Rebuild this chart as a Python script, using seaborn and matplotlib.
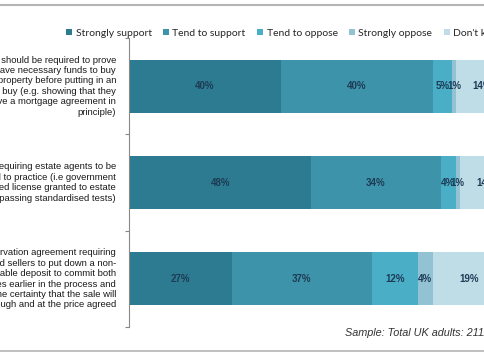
import numpy as np
import pandas as pd
import matplotlib
matplotlib.use("Agg")
import matplotlib.pyplot as plt
import seaborn as sns
from matplotlib.lines import Line2D
from matplotlib.patches import Patch

sns.set_theme(style="white")
plt.rcParams['font.family'] = ['Liberation Sans', 'DejaVu Sans']

# data
statements = [
    "Buyers should be required to prove\nthey have necessary funds to buy\na property before putting in an\noffer to buy (e.g. showing that they\nhave a mortgage agreement in\nprinciple)",
    "Requiring estate agents to be\nlicensed to practice (i.e government\napproved license granted to estate\nagents passing standardised tests)",
    "A reservation agreement requiring\nbuyers and sellers to put down a non-\nrefundable deposit to commit both\nparties earlier in the process and\ngive the certainty that the sale will\ngo through and at the price agreed",
]
responses = ["Strongly support", "Tend to support", "Tend to oppose", "Strongly oppose", "Don't know"]
strongly_support = [40, 48, 27]
tend_support = [40, 34, 37]
tend_oppose = [5, 4, 12]
strongly_oppose = [1, 1, 4]
dont_know = [14, 14, 19]
colors = ["#2d7b90", "#3d93a9", "#4aaec6", "#93c2d3", "#bfdde6"]

df = pd.DataFrame({
    "statement": statements,
    responses[0]: strongly_support,
    responses[1]: tend_support,
    responses[2]: tend_oppose,
    responses[3]: strongly_oppose,
    responses[4]: dont_know,
})

fig = plt.figure(figsize=(4.85, 3.6), dpi=100)
ax = fig.add_axes([129 / 485, 1 - 327 / 360, 380 / 485, 289 / 360])

left = np.zeros(len(df))
for resp, col in zip(responses, colors):
    sns.barplot(x=df[resp], y=np.arange(len(df)), left=left, orient="h",
                color=col, width=0.55, ax=ax, saturation=1, linewidth=0)
    for i, (v, l) in enumerate(zip(df[resp], left)):
        ax.text(l + v / 2, i, f"{v}%", ha="center", va="center",
                fontsize=7, color="#1d3b55", fontweight="bold")
    left = left + df[resp].values

ax.set_xlim(0, 100)
ax.set_ylim(2.5, -0.5)
ax.set_xticks([])
ax.set_yticks([-0.5, 0.5, 1.5, 2.5])
ax.set_yticklabels([])
ax.tick_params(axis="y", length=3, width=0.8, color="#888888", left=True)
ax.set_xlabel("")
ax.set_ylabel("")
for s in ["top", "right", "bottom"]:
    ax.spines[s].set_visible(False)
ax.spines["left"].set_color("#888888")
ax.spines["left"].set_linewidth(0.8)

for i, s in enumerate(statements):
    ax.text(-3.4, i, s, ha="right", va="center", fontsize=6.8,
            color="#1a1a1a", linespacing=1.2, transform=ax.transData, clip_on=False)

handles = [Patch(facecolor=c, edgecolor="none") for c in colors]
fig.legend(handles, responses, loc="center left", bbox_to_anchor=(62 / 485, 1 - 33 / 360),
           ncol=5, frameon=False, handlelength=0.6, handleheight=0.6,
           handletextpad=0.3, columnspacing=1.1, borderaxespad=0, prop={"family": "Lato", "size": 7.5})

fig.text(345 / 485, 1 - 333 / 360, "Sample: Total UK adults: 2111", fontsize=7.8,
         style="italic", color="#333333", ha="left", va="center")

fig.add_artist(Line2D([0, 1], [1 - 5 / 360, 1 - 5 / 360], color="#b5b5b5", linewidth=1.5))
fig.add_artist(Line2D([0, 1], [1 - 351 / 360, 1 - 351 / 360], color="#b5b5b5", linewidth=1.2))

fig.savefig("out.png", dpi=100)
